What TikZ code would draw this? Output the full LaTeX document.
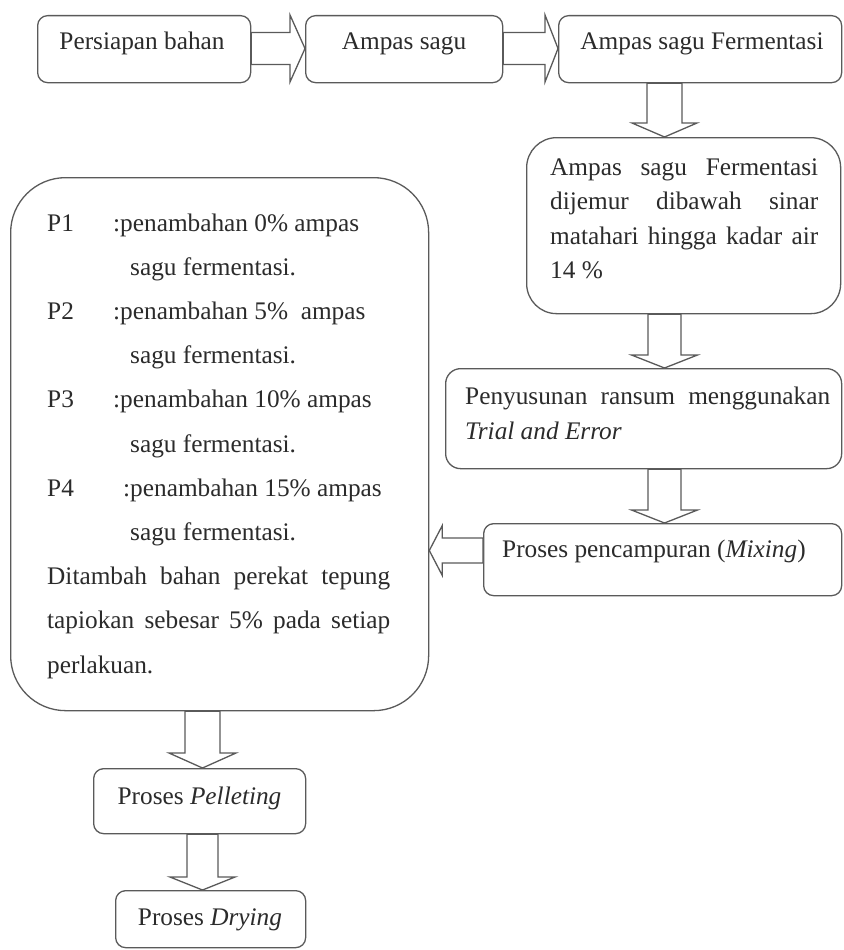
\documentclass[tikz,border=0pt]{standalone}
\usepackage{fontspec}
\setmainfont{Liberation Serif}
\usetikzlibrary{calc}
\definecolor{lc}{HTML}{5A5A5A}
\definecolor{tc}{HTML}{2B2B2B}
\tikzset{
  box/.style={draw=lc, line width=1.3pt, fill=white, anchor=north west, inner sep=0pt},
  arr/.style={draw=lc, line width=1.3pt, fill=white, line join=miter},
  txt/.style={inner sep=0pt, text=tc, font=\fontsize{25.3}{30}\selectfont},
}
% down block arrow: start node anchor, tip coordinate, shaft half, head half, head length
\newcommand\blkdown[5]{%
  \draw[arr] let \p1=(#1), \p2=(#2) in
    (\x2-#3,\y1) -- (\x2-#3,\y2+#5) -- (\x2-#4,\y2+#5) -- (\x2,\y2)
    -- (\x2+#4,\y2+#5) -- (\x2+#3,\y2+#5) -- (\x2+#3,\y1) -- cycle;}
% right block arrow
\newcommand\blkright[5]{%
  \draw[arr] let \p1=(#1), \p2=(#2) in
    (\x1,\y2+#3) -- (\x2-#5,\y2+#3) -- (\x2-#5,\y2+#4) -- (\x2,\y2)
    -- (\x2-#5,\y2-#4) -- (\x2-#5,\y2-#3) -- (\x1,\y2-#3) -- cycle;}
% left block arrow
\newcommand\blkleft[5]{%
  \draw[arr] let \p1=(#1), \p2=(#2) in
    (\x1,\y2+#3) -- (\x2+#5,\y2+#3) -- (\x2+#5,\y2+#4) -- (\x2,\y2)
    -- (\x2+#5,\y2-#4) -- (\x2+#5,\y2-#3) -- (\x1,\y2-#3) -- cycle;}
\begin{document}
\begin{tikzpicture}[x=1pt,y=-1pt]
\useasboundingbox[fill=white] (0,0) rectangle (843,950);

% boxes
\node[box, rounded corners=10pt, minimum width=213pt, minimum height=67pt] (b1) at (37,15) {};
\node[box, rounded corners=10pt, minimum width=197pt, minimum height=67pt] (b2) at (305,15) {};
\node[box, rounded corners=10pt, minimum width=283pt, minimum height=67pt] (b3) at (558,15) {};
\node[box, rounded corners=30pt, minimum width=314pt, minimum height=176pt] (b4) at (526,137) {};
\node[box, rounded corners=15pt, minimum width=396pt, minimum height=100pt] (b5) at (445,368) {};
\node[box, rounded corners=10pt, minimum width=358pt, minimum height=72pt] (b6) at (483,523) {};
\node[box, rounded corners=55pt, minimum width=418pt, minimum height=533pt] (bl) at (10,177) {};
\node[box, rounded corners=10pt, minimum width=212pt, minimum height=65pt] (bp) at (93,768) {};
\node[box, rounded corners=10pt, minimum width=190pt, minimum height=57pt] (bd) at (115,890) {};

% arrow axis coordinates
\coordinate (xa) at (664.5,0);
\coordinate (xl) at (202.5,0);
\coordinate (ya) at (0,550.5);

% block arrows
\blkright{b1.east}{b2.west |- 0,48.5}{16}{33.5}{15}
\blkright{b2.east}{b3.west |- 0,48.5}{16}{33.5}{13}
\blkdown{b3.south}{xa |- b4.north}{17.5}{32.5}{14}
\blkdown{b4.south}{xa |- b5.north}{16.5}{33}{13}
\blkdown{b5.south}{xa |- b6.north}{16.5}{33}{13}
\blkleft{b6.west}{bl.east |- ya}{12.5}{25}{13}
\blkdown{bl.south}{xl |- bp.north}{17.5}{33.5}{15}
\blkdown{bp.south}{xl |- bd.north}{15.5}{32.5}{13}

% texts
\node[txt, anchor=base] (t1) at (142,50) {Persiapan bahan};
\node[txt, anchor=base] (t2) at (404,50) {Ampas sagu};
\node[txt, anchor=base] (t3) at (702,50) {Ampas sagu Fermentasi};

\node[txt, anchor=base west] (t4a) at (550,175) {\makebox[268pt][s]{Ampas sagu Fermentasi}};
\node[txt, anchor=base west] (t4b) at (550,209.5) {\makebox[268pt][s]{dijemur dibawah sinar}};
\node[txt, anchor=base west] (t4c) at (550,244) {\makebox[268pt][s]{matahari hingga kadar air}};
\node[txt, anchor=base west] (t4d) at (550,278.5) {14 \%};

\node[txt, anchor=base west] (t5a) at (465,404) {\makebox[365pt][s]{Penyusunan ransum menggunakan}};
\node[txt, anchor=base west] (t5b) at (465,439) {\textit{Trial and Error}};

\node[txt, anchor=base west] (t6) at (502,557) {Proses pencampuran (\textit{Mixing})};

\node[txt, anchor=base west] (p1) at (47,231) {P1};
\node[txt, anchor=base west] (p1t) at (113,231) {:penambahan 0\% ampas};
\node[txt, anchor=base west] (p1s) at (130,275.2) {sagu fermentasi.};
\node[txt, anchor=base west] (p2) at (47,319.4) {P2};
\node[txt, anchor=base west] (p2t) at (113,319.4) {:penambahan 5\%\ \ ampas};
\node[txt, anchor=base west] (p2s) at (130,363.6) {sagu fermentasi.};
\node[txt, anchor=base west] (p3) at (47,407.8) {P3};
\node[txt, anchor=base west] (p3t) at (113,407.8) {:penambahan 10\% ampas};
\node[txt, anchor=base west] (p3s) at (130,452) {sagu fermentasi.};
\node[txt, anchor=base west] (p4) at (47,496.2) {P4};
\node[txt, anchor=base west] (p4t) at (123,496.2) {:penambahan 15\% ampas};
\node[txt, anchor=base west] (p4s) at (130,540.4) {sagu fermentasi.};
\node[txt, anchor=base west] (la) at (47,584.6) {\makebox[343pt][s]{Ditambah bahan perekat tepung}};
\node[txt, anchor=base west] (lb) at (47,628.8) {\makebox[343pt][s]{tapiokan sebesar 5\% pada setiap}};
\node[txt, anchor=base west] (lc) at (47,673) {perlakuan.};

\node[txt, anchor=base] (tp) at (199.5,804) {Proses \textit{Pelleting}};
\node[txt, anchor=base] (td) at (210,925) {Proses \textit{Drying}};
\end{tikzpicture}
\end{document}
